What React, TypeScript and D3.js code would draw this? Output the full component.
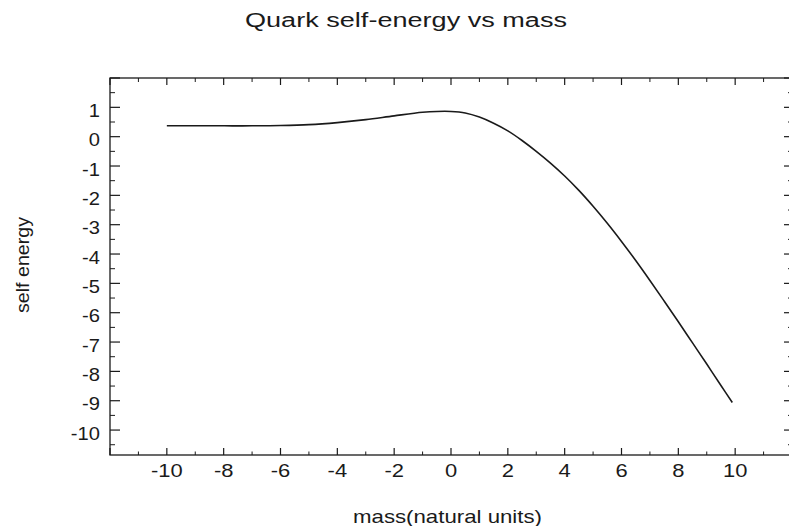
import React from "react";
import * as d3 from "d3";

const massValues = [-10, -9, -8, -7, -6, -5, -4, -3, -2, -1, -0.5, 0, 0.5, 1, 1.5, 2, 2.5, 3, 3.5, 4, 4.5, 5, 5.5, 6, 6.5, 7, 7.5, 8, 8.5, 9, 9.5, 9.9];
const energyValues = [0.37, 0.37, 0.37, 0.37, 0.38, 0.41, 0.48, 0.58, 0.71, 0.83, 0.86, 0.86, 0.81, 0.67, 0.46, 0.2, -0.13, -0.5, -0.9, -1.34, -1.83, -2.37, -2.95, -3.57, -4.22, -4.9, -5.6, -6.31, -7.03, -7.75, -8.48, -9.06];
const xTickValues = [-10, -8, -6, -4, -2, 0, 2, 4, 6, 8, 10];
const yTickValues = [1, 0, -1, -2, -3, -4, -5, -6, -7, -8, -9, -10];
const titleText = "Quark self-energy vs mass";
const xLabelText = "mass(natural units)";
const yLabelText = "self energy";

const W = 789;
const H = 526;
const left = 110, right = 792, top = 78, bottom = 455;

export default function App() {
  const x = d3.scaleLinear().domain([-12, 12]).range([left, right]);
  const y = d3.scaleLinear().domain([-10.85, 2]).range([bottom, top]);
  const data = massValues.map((m, i) => [m, energyValues[i]] as [number, number]);
  const line = d3.line<[number, number]>().x(d => x(d[0])).y(d => y(d[1])).curve(d3.curveCatmullRom.alpha(0.5));

  const xMajor = d3.range(-12, 13, 2);
  const xMinor = d3.range(-11, 12, 2);
  const yMajor = d3.range(-10, 3, 1);
  const yMinor = d3.range(-10.5, 2, 1);
  const ink = "#1a1a1a";
  const font = "'Liberation Sans', Arial, Helvetica, sans-serif";

  return (
    <svg width={W} height={H} style={{ position: "absolute", left: 0, top: 0, background: "#fff" }}>
      <rect x={0} y={0} width={W} height={H} fill="#fff" />
      <text x={245} y={27} fontFamily={font} fontSize={20} fill={ink} textLength={322} lengthAdjust="spacingAndGlyphs">{titleText}</text>
      <rect x={left} y={top} width={right - left} height={bottom - top} fill="none" stroke={ink} strokeWidth={1.3} />
      {xMajor.map(v => (
        <g key={"xM" + v}>
          <line x1={x(v)} x2={x(v)} y1={bottom} y2={bottom - 7} stroke={ink} strokeWidth={1.2} />
          <line x1={x(v)} x2={x(v)} y1={top} y2={top + 7} stroke={ink} strokeWidth={1.2} />
        </g>
      ))}
      {xMinor.map(v => (
        <g key={"xm" + v}>
          <line x1={x(v)} x2={x(v)} y1={bottom} y2={bottom - 3.5} stroke={ink} strokeWidth={1} />
          <line x1={x(v)} x2={x(v)} y1={top} y2={top + 4} stroke={ink} strokeWidth={1} />
        </g>
      ))}
      {yMajor.map(v => (
        <g key={"yM" + v}>
          <line x1={left} x2={left + 10} y1={y(v)} y2={y(v)} stroke={ink} strokeWidth={1.2} />
          <line x1={right} x2={right - 8} y1={y(v)} y2={y(v)} stroke={ink} strokeWidth={1.2} />
        </g>
      ))}
      {yMinor.map(v => (
        <g key={"ym" + v}>
          <line x1={left} x2={left + 5} y1={y(v)} y2={y(v)} stroke={ink} strokeWidth={1} />
          <line x1={right} x2={right - 4} y1={y(v)} y2={y(v)} stroke={ink} strokeWidth={1} />
        </g>
      ))}
      {xTickValues.map(v => (
        <g key={"xl" + v} transform={`translate(${x(v)},477) scale(1.22,1)`}>
          <text x={0} y={0} textAnchor="middle" fontFamily={font} fontSize={18} fill={ink}>{String(v)}</text>
        </g>
      ))}
      {yTickValues.map(v => (
        <g key={"yl" + v} transform={`translate(100,${y(v) + 9.5}) scale(1.12,1)`}>
          <text x={0} y={0} textAnchor="end" fontFamily={font} fontSize={18} fill={ink}>{String(v)}</text>
        </g>
      ))}
      <path d={line(data) ?? ""} fill="none" stroke={ink} strokeWidth={1.6} />
      <text x={353} y={523} fontFamily={font} fontSize={19} fill={ink} textLength={189} lengthAdjust="spacingAndGlyphs">{xLabelText}</text>
      <text transform="translate(29,265) rotate(-90)" textAnchor="middle" fontFamily={font} fontSize={18} fill={ink} textLength={96} lengthAdjust="spacingAndGlyphs">{yLabelText}</text>
    </svg>
  );
}
